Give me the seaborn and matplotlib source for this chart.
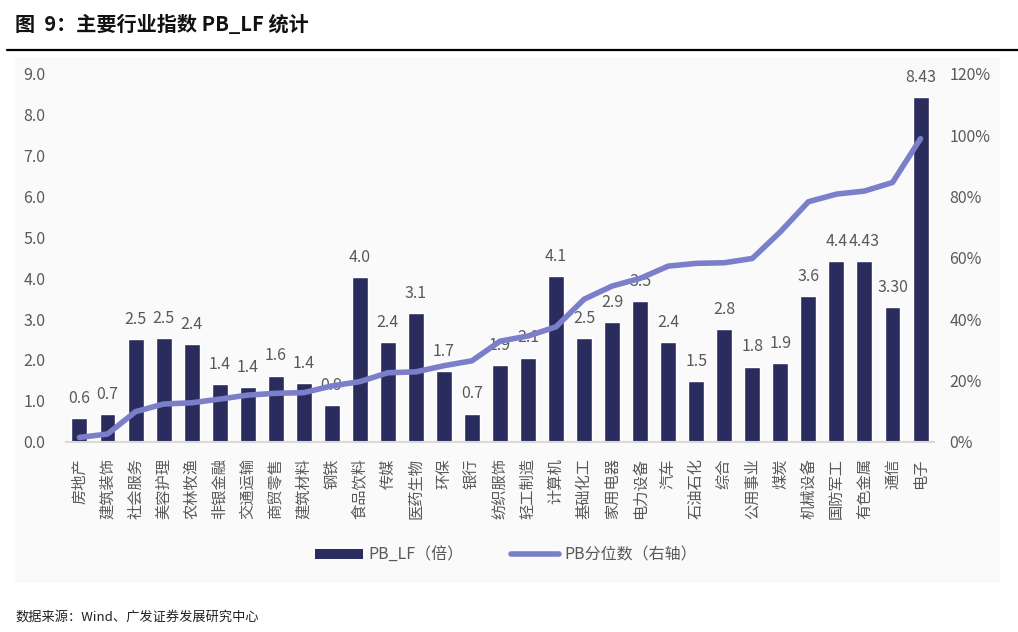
import numpy as np
import pandas as pd
import matplotlib
matplotlib.use("Agg")
import matplotlib.pyplot as plt
from matplotlib.patches import Patch, Rectangle
from matplotlib.lines import Line2D
import seaborn as sns

categories = ["房地产", "建筑装饰", "社会服务", "美容护理", "农林牧渔", "非银金融", "交通运输",
              "商贸零售", "建筑材料", "钢铁", "食品饮料", "传媒", "医药生物", "环保", "银行",
              "纺织服饰", "轻工制造", "计算机", "基础化工", "家用电器", "电力设备", "汽车",
              "石油石化", "综合", "公用事业", "煤炭", "机械设备", "国防军工", "有色金属", "通信", "电子"]
pb_lf = [0.57, 0.68, 2.51, 2.54, 2.39, 1.42, 1.34, 1.62, 1.43, 0.90, 4.03, 2.43, 3.14, 1.72, 0.69,
         1.87, 2.06, 4.05, 2.54, 2.92, 3.45, 2.43, 1.48, 2.75, 1.84, 1.92, 3.56, 4.42, 4.43, 3.30, 8.43]
pb_labels = ["0.6", "0.7", "2.5", "2.5", "2.4", "1.4", "1.4", "1.6", "1.4", "0.9", "4.0", "2.4", "3.1",
             "1.7", "0.7", "1.9", "2.1", "4.1", "2.5", "2.9", "3.5", "2.4", "1.5", "2.8", "1.8", "1.9",
             "3.6", "4.4", "4.43", "3.30", "8.43"]
pb_pct = [1.4, 2.5, 9.8, 12.3, 12.7, 13.9, 15.2, 15.8, 16.0, 18.2, 19.6, 22.5, 22.8, 24.8, 26.4,
          32.8, 34.5, 37.5, 46.5, 50.8, 53.3, 57.3, 58.2, 58.4, 59.8, 68.5, 78.3, 80.8, 81.8, 84.6, 98.9]
left_ticks = [0, 1, 2, 3, 4, 5, 6, 7, 8, 9]
right_ticks = [0, 20, 40, 60, 80, 100, 120]
title = "图  9：主要行业指数 PB_LF 统计"
source = "数据来源：Wind、广发证券发展研究中心"
legend_labels = ["PB_LF（倍）", "PB分位数（右轴）"]

sns.set_theme(style="white")
plt.rcParams["font.family"] = ["Noto Sans CJK SC", "DejaVu Sans"]
plt.rcParams["axes.unicode_minus"] = False

BAR = "#2b2c5e"
LINE = "#7b7ec8"
GRAY = "#595959"

W, H = 1018, 632
fig = plt.figure(figsize=(W / 100, H / 100), dpi=100)
fig.patch.set_facecolor("white")

# faint panel background
fig.patches.append(Rectangle((15 / W, 1 - 583 / H), (1000 - 15) / W, (583 - 57) / H,
                             transform=fig.transFigure, facecolor="#fafafa", edgecolor="none",
                             zorder=-10))
# title and rule
fig.text(15 / W, 1 - 24 / H, title, fontsize=14.5, fontweight="bold", color="#111111",
         ha="left", va="center")
fig.add_artist(Line2D([7 / W, 1.0], [1 - 50 / H, 1 - 50 / H], transform=fig.transFigure,
                      color="black", linewidth=1.6))
fig.text(15 / W, 1 - 617 / H, source, fontsize=9.5, color="#222222", ha="left", va="center")

ax = fig.add_axes([66 / W, 1 - 441.7 / H, (934 - 66) / W, (441.7 - 74) / H])
ax.set_facecolor("none")
ax.set_zorder(2)
df = pd.DataFrame({"cat": categories, "pb": pb_lf, "pct": pb_pct, "idx": np.arange(len(categories))})

sns.barplot(data=df, x="cat", y="pb", ax=ax, color=BAR, width=0.57, saturation=1)
ax.bar_label(ax.containers[0], labels=pb_labels, padding=8, fontsize=11.5, color=GRAY)
ax.set_ylim(0, 9)
ax.set_xlim(-0.48, len(categories) - 0.52)
ax.set_yticks(left_ticks)
ax.set_yticklabels([f"{v:.1f}" for v in left_ticks], fontsize=11.5, color=GRAY)
ax.set_xlabel("")
ax.set_ylabel("")
ax.set_xticks(np.arange(len(categories)))
ax.set_xticklabels(categories, rotation=90, fontsize=11, color=GRAY, ha="center", va="top")
ax.tick_params(axis="x", length=0, pad=12)
ax.tick_params(axis="y", length=0, pad=15)
for s in ["top", "left", "right"]:
    ax.spines[s].set_visible(False)
ax.spines["bottom"].set_color("#d9d9d9")
ax.spines["bottom"].set_linewidth(1.5)
ax.grid(False)

ax2 = ax.twinx()
ax2.set_zorder(3)
ax2.set_facecolor("none")
sns.lineplot(data=df, x="idx", y="pct", ax=ax2, color=LINE, linewidth=4, sort=False)
for ln in ax2.lines:
    ln.set_solid_capstyle("round")
    ln.set_solid_joinstyle("round")
ax2.set_ylim(0, 120)
ax2.set_xlim(-0.48, len(categories) - 0.52)
ax2.set_yticks(right_ticks)
ax2.set_yticklabels([f"{v}%" for v in right_ticks], fontsize=11.5, color=GRAY)
ax2.set_ylabel("")
ax2.set_xlabel("")
ax2.tick_params(axis="y", length=0, pad=11)
for s in ["top", "left", "right", "bottom"]:
    ax2.spines[s].set_visible(False)
ax2.grid(False)

handles = [Patch(facecolor=BAR, edgecolor="none"),
           Line2D([0], [0], color=LINE, linewidth=4, solid_capstyle="round")]
fig.legend(handles, legend_labels, loc="center", bbox_to_anchor=(506 / W, 1 - 555 / H),
           ncol=2, frameon=False, fontsize=11.5, handlelength=3.0, handleheight=0.55,
           handletextpad=0.3, columnspacing=3.0, labelcolor=GRAY)

fig.savefig("out.png", dpi=100)
